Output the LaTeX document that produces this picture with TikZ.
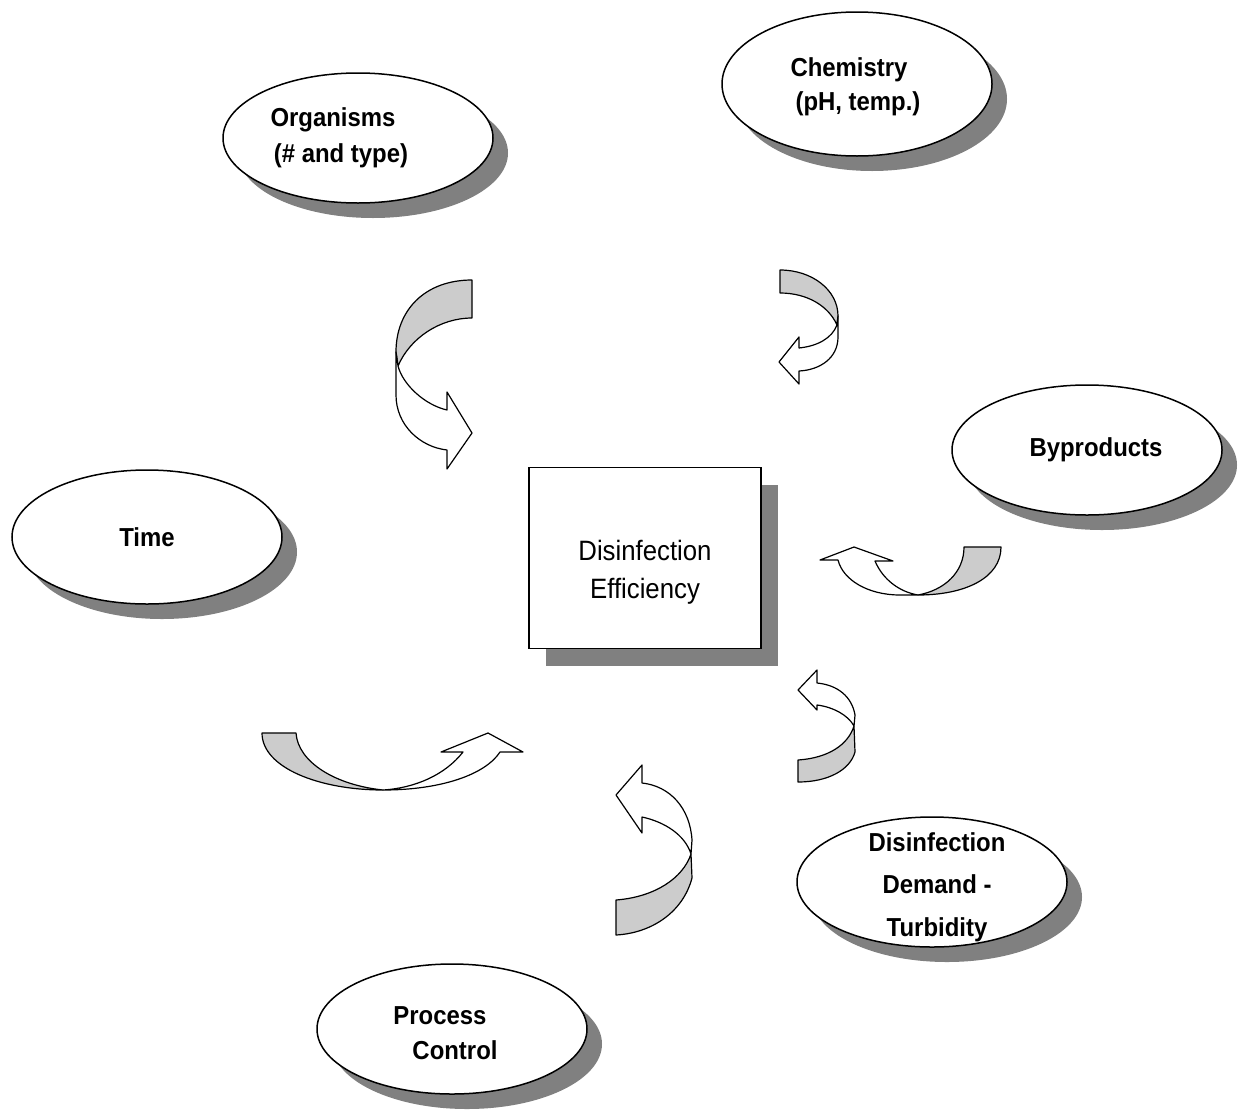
\documentclass[tikz,border=0pt]{standalone}
\usepackage{fontspec}
\setmainfont{Liberation Sans}[FakeStretch=0.92]
\usetikzlibrary{shapes.geometric,shadows}

\begin{document}
\begin{tikzpicture}[
    x=1pt, y=-1pt,
    factor/.style={
		ellipse,
		draw=black,
		line width=1.5pt,
		fill=white,
		minimum width=270pt,
		minimum height=130pt,
		drop shadow={shadow xshift=15pt, shadow yshift=-15pt, fill=black!50, opacity=1}
	},
	factortext/.style={
		align=center,
		inner sep=0pt,
		font=\bfseries\fontsize{26}{36}\selectfont
	},
	effbox/.style={
		rectangle,
		draw=black,
		line width=1.5pt,
		fill=white,
		minimum width=232pt,
		minimum height=181pt,
		drop shadow={shadow xshift=17pt, shadow yshift=-17pt, fill=black!50, opacity=1}
	},
	ribbon/.style={
		draw=black,
		line width=1.2pt,
		line join=round,
		fill=black!20
	},
	ribbonhead/.style={
		ribbon,
		fill=white
	}
  ]
  \useasboundingbox (0,0) rectangle (1239,1111);

  % the box in the middle
  \node [effbox] (eff) at (645,558) {};
  \node [align=center, inner sep=0pt, font=\fontsize{28}{38}\selectfont] (eff-t) at (645,572) {Disinfection\\Efficiency};

  % the factors round it
  \node [factor] (org) at (358,138) {};
  \node [factortext] (org-t) at (333,138) {Organisms\\\hspace*{16pt}(\# and type)};

  \node [factor, minimum height=144pt] (chem) at (857,84) {};
  \node [factortext, font=\bfseries\fontsize{26}{34}\selectfont] (chem-t) at (849,87) {Chemistry\\\hspace*{18pt}(pH, temp.)};

  \node [factor] (byp) at (1087,450) {};
  \node [factortext] (byp-t) at (1096,450) {Byproducts};

  \node [factor, minimum height=134pt] (time) at (147,537) {};
  \node [factortext] (time-t) at (147,537) {Time};

  \node [factor] (dem) at (932,882) {};
  \node [factortext, font=\bfseries\fontsize{26}{42.5}\selectfont] (dem-t) at (937,887) {Disinfection\\Demand -\\Turbidity};

  \node [factor] (proc) at (452,1029) {};
  \node [factortext, font=\bfseries\fontsize{26}{35}\selectfont] (proc-t) at (440,1033) {Process\\\hspace*{30pt}Control};

  % curved arrows
  % organisms
  \draw [ribbon] (472,280) .. controls (425,280) and (396,310) .. (396,352) -- (398,366)
     .. controls (410,338) and (440,318) .. (472,318) -- cycle;
  \draw [ribbonhead] (396,352) -- (396,395) .. controls (396,425) and (420,447) .. (447,450)
     -- (447,469) -- (472,433) -- (447,392) -- (447,410)
     .. controls (425,405) and (403,385) .. (398,366) -- cycle;

  % chemistry
  \draw [ribbon] (780,270) .. controls (812,270) and (838,290) .. (838,316) -- (837,325)
     .. controls (828,305) and (806,293) .. (780,293) -- cycle;
  \draw [ribbonhead] (838,316) -- (838,337) .. controls (838,358) and (820,370) .. (799,371)
     -- (799,384) -- (779,362) -- (799,337) -- (799,348)
     .. controls (818,346) and (832,338) .. (837,325) -- cycle;

  % byproducts
  \draw [ribbon] (964,547) -- (1001,547) .. controls (1001,578) and (965,595) .. (918,595)
     .. controls (945,590) and (964,572) .. (964,547) -- cycle;
  \draw [ribbonhead] (918,595) -- (900,595) .. controls (868,595) and (843,580) .. (838,560)
     -- (820,560) -- (854,547) -- (893,561) -- (875,561)
     .. controls (883,580) and (900,592) .. (918,595) -- cycle;

  % demand
  \draw [ribbon] (798,760) .. controls (828,758) and (848,745) .. (854,726) -- (855,752)
     .. controls (850,770) and (828,782) .. (798,782) -- cycle;
  \draw [ribbonhead] (854,726) -- (855,715) .. controls (852,697) and (838,685) .. (817,683)
     -- (817,670) -- (798,690) -- (817,710) -- (817,705)
     .. controls (833,707) and (848,715) .. (854,726) -- cycle;

  % time
  \draw [ribbon] (262,733) .. controls (262,768) and (320,790) .. (383,790)
     .. controls (335,785) and (298,762) .. (296,733) -- cycle;
  \draw [ribbonhead] (383,790) .. controls (440,790) and (485,775) .. (500,752)
     -- (523,752) -- (488,733) -- (441,752) -- (463,752)
     .. controls (445,775) and (415,788) .. (383,790) -- cycle;

  % process control
  \draw [ribbon] (616,900) .. controls (655,897) and (683,878) .. (691,854) -- (692,878)
     .. controls (683,912) and (652,933) .. (616,935) -- cycle;
  \draw [ribbonhead] (691,854) -- (692,840) .. controls (690,808) and (670,786) .. (642,783)
     -- (642,765) -- (616,795) -- (642,833) -- (642,817)
     .. controls (665,822) and (685,835) .. (691,854) -- cycle;

\end{tikzpicture}
\end{document}
